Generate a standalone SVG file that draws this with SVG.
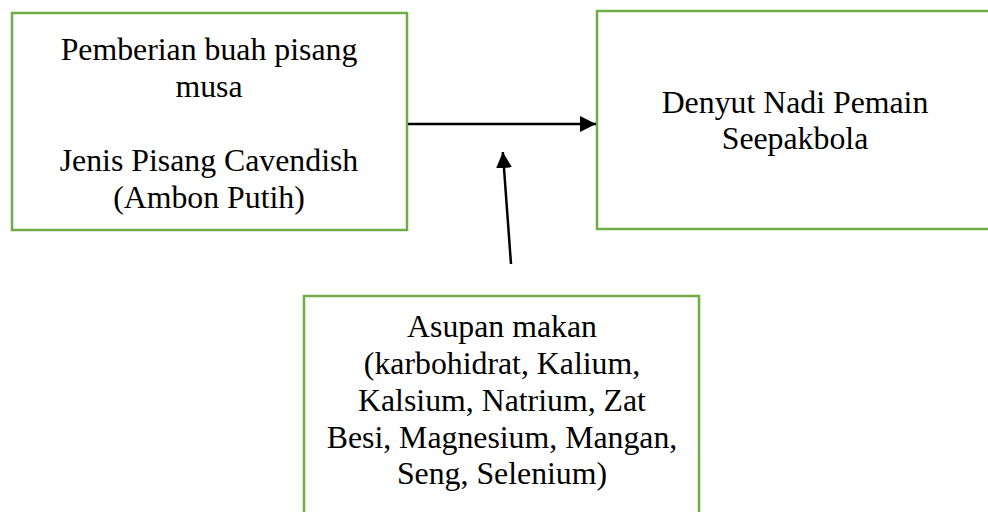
<svg xmlns="http://www.w3.org/2000/svg" width="988" height="512" viewBox="0 0 988 512">
<style>
.box{fill:#fff;stroke:#70AD47;stroke-width:2.5}
.t{font-family:"Liberation Serif","Times New Roman",serif;font-size:31.8px;fill:#000;text-anchor:middle}
.c{stroke:#000;stroke-width:2.5;fill:none}
</style>
<defs>
<marker id="ah" viewBox="0 0 10 10" refX="10" refY="5" markerWidth="16" markerHeight="16" markerUnits="userSpaceOnUse" orient="auto">
<path d="M0,0 L10,5 L0,10 Z" fill="#000"/>
</marker>
</defs>
<rect width="988" height="512" fill="#fff"/>
<g id="node1">
<rect class="box" x="12" y="13" width="395" height="217"/>
<text class="t" x="209" y="60">Pemberian buah pisang</text>
<text class="t" x="209" y="97">musa</text>
<text class="t" x="209" y="171">Jenis Pisang Cavendish</text>
<text class="t" x="209" y="208">(Ambon Putih)</text>
</g>
<g id="node2">
<rect class="box" x="597" y="11" width="400" height="218"/>
<text class="t" x="795" y="113">Denyut Nadi Pemain</text>
<text class="t" x="795" y="149">Seepakbola</text>
</g>
<g id="node3">
<rect class="box" x="304" y="296" width="395" height="230"/>
<text class="t" x="502" y="337">Asupan makan</text>
<text class="t" x="502" y="374">(karbohidrat, Kalium,</text>
<text class="t" x="502" y="411">Kalsium, Natrium, Zat</text>
<text class="t" x="502" y="448">Besi, Magnesium, Mangan,</text>
<text class="t" x="502" y="484">Seng, Selenium)</text>
</g>
<g id="connectors">
<line class="c" x1="408" y1="124" x2="596" y2="124" marker-end="url(#ah)"/>
<line class="c" x1="511" y1="264" x2="502.8" y2="152" marker-end="url(#ah)"/>
</g>
</svg>
